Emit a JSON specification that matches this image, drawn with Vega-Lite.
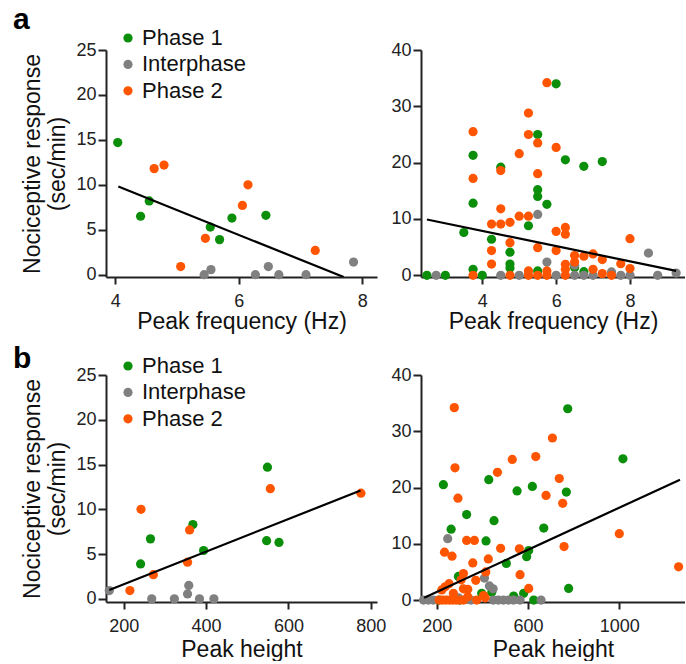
{
  "$schema": "https://vega.github.io/schema/vega-lite/v6.json",
  "padding": {"left": 13, "top": 5, "right": 0, "bottom": 0},
  "bounds": "flush",
  "columns": 2,
  "spacing": {"row": 98, "column": 44},
  "resolve": {"scale": {"color": "independent"}, "legend": {"color": "independent"}},
  "datasets": {
    "aL": [
      {"x": 4.04, "y": 14.7, "phase": "Phase 1"}, {"x": 4.41, "y": 6.5, "phase": "Phase 1"}, {"x": 4.55, "y": 8.2, "phase": "Phase 1"}, {"x": 5.54, "y": 5.3, "phase": "Phase 1"}, {"x": 5.69, "y": 3.9, "phase": "Phase 1"}, {"x": 5.89, "y": 6.3, "phase": "Phase 1"}, {"x": 6.44, "y": 6.6, "phase": "Phase 1"},
      {"x": 5.44, "y": 0, "phase": "Interphase"}, {"x": 5.55, "y": 0.56, "phase": "Interphase"}, {"x": 6.27, "y": 0, "phase": "Interphase"}, {"x": 6.48, "y": 0.9, "phase": "Interphase"}, {"x": 6.65, "y": 0, "phase": "Interphase"}, {"x": 7.09, "y": 0, "phase": "Interphase"}, {"x": 7.86, "y": 1.4, "phase": "Interphase"},
      {"x": 4.63, "y": 11.8, "phase": "Phase 2"}, {"x": 4.79, "y": 12.2, "phase": "Phase 2"}, {"x": 5.06, "y": 0.9, "phase": "Phase 2"}, {"x": 5.46, "y": 4.05, "phase": "Phase 2"}, {"x": 6.06, "y": 7.7, "phase": "Phase 2"}, {"x": 6.15, "y": 10.0, "phase": "Phase 2"}, {"x": 7.24, "y": 2.7, "phase": "Phase 2"}
    ],
    "aLline": [{"x": 4.05, "y": 9.8}, {"x": 7.7, "y": -0.26}],
    "aR": [
      {"x": 2.5, "y": 0, "phase": "Phase 1"}, {"x": 3.0, "y": 0, "phase": "Phase 1"}, {"x": 3.5, "y": 7.6, "phase": "Phase 1"}, {"x": 3.75, "y": 21.3, "phase": "Phase 1"}, {"x": 3.75, "y": 12.8, "phase": "Phase 1"}, {"x": 3.75, "y": 1.06, "phase": "Phase 1"}, {"x": 4.0, "y": 0, "phase": "Phase 1"}, {"x": 4.25, "y": 6.4, "phase": "Phase 1"}, {"x": 4.5, "y": 19.2, "phase": "Phase 1"}, {"x": 4.75, "y": 4.1, "phase": "Phase 1"}, {"x": 4.75, "y": 2.0, "phase": "Phase 1"}, {"x": 4.75, "y": 1.3, "phase": "Phase 1"}, {"x": 5.25, "y": 8.8, "phase": "Phase 1"}, {"x": 5.5, "y": 25.0, "phase": "Phase 1"}, {"x": 5.5, "y": 15.2, "phase": "Phase 1"}, {"x": 5.5, "y": 14.0, "phase": "Phase 1"}, {"x": 5.5, "y": 0.77, "phase": "Phase 1"}, {"x": 5.75, "y": 12.6, "phase": "Phase 1"}, {"x": 6.0, "y": 34.0, "phase": "Phase 1"}, {"x": 6.25, "y": 20.5, "phase": "Phase 1"}, {"x": 6.5, "y": 1.4, "phase": "Phase 1"}, {"x": 6.75, "y": 19.35, "phase": "Phase 1"}, {"x": 6.75, "y": 0.65, "phase": "Phase 1"}, {"x": 7.25, "y": 20.2, "phase": "Phase 1"},
      {"x": 2.75, "y": 0, "phase": "Interphase"}, {"x": 4.5, "y": 0, "phase": "Interphase"}, {"x": 5.0, "y": 0, "phase": "Interphase"}, {"x": 5.5, "y": 10.8, "phase": "Interphase"}, {"x": 5.75, "y": 2.36, "phase": "Interphase"}, {"x": 6.0, "y": 0, "phase": "Interphase"}, {"x": 6.5, "y": 0, "phase": "Interphase"}, {"x": 6.5, "y": 1.8, "phase": "Interphase"}, {"x": 6.75, "y": 0, "phase": "Interphase"}, {"x": 7.0, "y": 0, "phase": "Interphase"}, {"x": 7.5, "y": 0.6, "phase": "Interphase"}, {"x": 7.75, "y": 0, "phase": "Interphase"}, {"x": 8.0, "y": 0, "phase": "Interphase"}, {"x": 8.5, "y": 3.95, "phase": "Interphase"}, {"x": 8.75, "y": 0, "phase": "Interphase"}, {"x": 9.25, "y": 0.4, "phase": "Interphase"},
      {"x": 3.75, "y": 25.5, "phase": "Phase 2"}, {"x": 3.75, "y": 17.2, "phase": "Phase 2"}, {"x": 3.75, "y": 0, "phase": "Phase 2"}, {"x": 4.25, "y": 9.1, "phase": "Phase 2"}, {"x": 4.25, "y": 4.4, "phase": "Phase 2"}, {"x": 4.25, "y": 2.0, "phase": "Phase 2"}, {"x": 4.5, "y": 18.6, "phase": "Phase 2"}, {"x": 4.5, "y": 11.8, "phase": "Phase 2"}, {"x": 4.5, "y": 9.1, "phase": "Phase 2"}, {"x": 4.75, "y": 9.4, "phase": "Phase 2"}, {"x": 4.75, "y": 5.8, "phase": "Phase 2"}, {"x": 4.75, "y": 0, "phase": "Phase 2"}, {"x": 5.0, "y": 21.6, "phase": "Phase 2"}, {"x": 5.0, "y": 10.5, "phase": "Phase 2"}, {"x": 5.25, "y": 28.8, "phase": "Phase 2"}, {"x": 5.25, "y": 25.0, "phase": "Phase 2"}, {"x": 5.25, "y": 10.5, "phase": "Phase 2"}, {"x": 5.25, "y": 0.77, "phase": "Phase 2"}, {"x": 5.25, "y": 0, "phase": "Phase 2"}, {"x": 5.5, "y": 23.5, "phase": "Phase 2"}, {"x": 5.5, "y": 18.05, "phase": "Phase 2"}, {"x": 5.5, "y": 4.9, "phase": "Phase 2"}, {"x": 5.5, "y": 0, "phase": "Phase 2"}, {"x": 5.75, "y": 34.2, "phase": "Phase 2"}, {"x": 5.75, "y": 0.77, "phase": "Phase 2"}, {"x": 5.75, "y": 0, "phase": "Phase 2"}, {"x": 6.0, "y": 22.7, "phase": "Phase 2"}, {"x": 6.0, "y": 7.8, "phase": "Phase 2"}, {"x": 6.0, "y": 4.4, "phase": "Phase 2"}, {"x": 6.25, "y": 8.5, "phase": "Phase 2"}, {"x": 6.25, "y": 7.3, "phase": "Phase 2"}, {"x": 6.25, "y": 1.95, "phase": "Phase 2"}, {"x": 6.25, "y": 1.06, "phase": "Phase 2"}, {"x": 6.25, "y": 0, "phase": "Phase 2"}, {"x": 6.5, "y": 3.5, "phase": "Phase 2"}, {"x": 6.5, "y": 2.36, "phase": "Phase 2"}, {"x": 6.75, "y": 3.4, "phase": "Phase 2"}, {"x": 7.0, "y": 3.8, "phase": "Phase 2"}, {"x": 7.0, "y": 1.06, "phase": "Phase 2"}, {"x": 7.25, "y": 2.8, "phase": "Phase 2"}, {"x": 7.25, "y": 0.3, "phase": "Phase 2"}, {"x": 7.5, "y": 0, "phase": "Phase 2"}, {"x": 7.75, "y": 2.06, "phase": "Phase 2"}, {"x": 8.0, "y": 6.5, "phase": "Phase 2"}, {"x": 8.0, "y": 1.2, "phase": "Phase 2"}
    ],
    "aRline": [{"x": 2.5, "y": 9.9}, {"x": 9.25, "y": 0.8}],
    "bL": [
      {"x": 549, "y": 14.7, "phase": "Phase 1"}, {"x": 547, "y": 6.5, "phase": "Phase 1"}, {"x": 577, "y": 6.3, "phase": "Phase 1"}, {"x": 368, "y": 8.3, "phase": "Phase 1"}, {"x": 394, "y": 5.4, "phase": "Phase 1"}, {"x": 265, "y": 6.7, "phase": "Phase 1"}, {"x": 241, "y": 3.9, "phase": "Phase 1"},
      {"x": 165, "y": 0.93, "phase": "Interphase"}, {"x": 268, "y": 0, "phase": "Interphase"}, {"x": 323, "y": 0, "phase": "Interphase"}, {"x": 358, "y": 1.5, "phase": "Interphase"}, {"x": 355, "y": 0.55, "phase": "Interphase"}, {"x": 384, "y": 0, "phase": "Interphase"}, {"x": 419, "y": 0, "phase": "Interphase"},
      {"x": 242, "y": 10.0, "phase": "Phase 2"}, {"x": 556, "y": 12.3, "phase": "Phase 2"}, {"x": 360, "y": 7.7, "phase": "Phase 2"}, {"x": 355, "y": 4.1, "phase": "Phase 2"}, {"x": 272, "y": 2.7, "phase": "Phase 2"}, {"x": 215, "y": 0.93, "phase": "Phase 2"}, {"x": 776, "y": 11.8, "phase": "Phase 2"}
    ],
    "bLline": [{"x": 165, "y": 1.0}, {"x": 775, "y": 12.1}],
    "bR": [
      {"x": 229, "y": 20.5, "phase": "Phase 1"}, {"x": 263, "y": 12.6, "phase": "Phase 1"}, {"x": 331, "y": 15.2, "phase": "Phase 1"}, {"x": 428, "y": 21.4, "phase": "Phase 1"}, {"x": 451, "y": 14.1, "phase": "Phase 1"}, {"x": 416, "y": 10.5, "phase": "Phase 1"}, {"x": 505, "y": 6.5, "phase": "Phase 1"}, {"x": 552, "y": 19.4, "phase": "Phase 1"}, {"x": 619, "y": 20.2, "phase": "Phase 1"}, {"x": 669, "y": 12.8, "phase": "Phase 1"}, {"x": 774, "y": 34.0, "phase": "Phase 1"}, {"x": 768, "y": 19.2, "phase": "Phase 1"}, {"x": 1016, "y": 25.1, "phase": "Phase 1"}, {"x": 778, "y": 2.06, "phase": "Phase 1"}, {"x": 594, "y": 7.7, "phase": "Phase 1"}, {"x": 603, "y": 8.8, "phase": "Phase 1"}, {"x": 295, "y": 4.2, "phase": "Phase 1"}, {"x": 397, "y": 1.2, "phase": "Phase 1"}, {"x": 441, "y": 1.4, "phase": "Phase 1"}, {"x": 537, "y": 0.7, "phase": "Phase 1"}, {"x": 581, "y": 1.2, "phase": "Phase 1"}, {"x": 625, "y": 0, "phase": "Phase 1"}, {"x": 210, "y": 0, "phase": "Phase 1"}, {"x": 300, "y": 0, "phase": "Phase 1"},
      {"x": 248, "y": 10.9, "phase": "Interphase"}, {"x": 409, "y": 3.9, "phase": "Interphase"}, {"x": 431, "y": 2.5, "phase": "Interphase"}, {"x": 447, "y": 2.0, "phase": "Interphase"}, {"x": 142, "y": 0, "phase": "Interphase"}, {"x": 163, "y": 0, "phase": "Interphase"}, {"x": 185, "y": 0, "phase": "Interphase"}, {"x": 295, "y": 0.4, "phase": "Interphase"}, {"x": 350, "y": 0, "phase": "Interphase"}, {"x": 448, "y": 0, "phase": "Interphase"}, {"x": 470, "y": 0, "phase": "Interphase"}, {"x": 492, "y": 0, "phase": "Interphase"}, {"x": 514, "y": 0, "phase": "Interphase"}, {"x": 536, "y": 0, "phase": "Interphase"}, {"x": 565, "y": 0, "phase": "Interphase"}, {"x": 657, "y": 0, "phase": "Interphase"},
      {"x": 277, "y": 34.2, "phase": "Phase 2"}, {"x": 280, "y": 23.5, "phase": "Phase 2"}, {"x": 293, "y": 18.1, "phase": "Phase 2"}, {"x": 331, "y": 10.6, "phase": "Phase 2"}, {"x": 365, "y": 10.6, "phase": "Phase 2"}, {"x": 234, "y": 8.5, "phase": "Phase 2"}, {"x": 267, "y": 7.8, "phase": "Phase 2"}, {"x": 358, "y": 6.6, "phase": "Phase 2"}, {"x": 426, "y": 7.3, "phase": "Phase 2"}, {"x": 415, "y": 5.0, "phase": "Phase 2"}, {"x": 480, "y": 9.2, "phase": "Phase 2"}, {"x": 466, "y": 22.7, "phase": "Phase 2"}, {"x": 531, "y": 25.0, "phase": "Phase 2"}, {"x": 562, "y": 9.1, "phase": "Phase 2"}, {"x": 565, "y": 4.5, "phase": "Phase 2"}, {"x": 603, "y": 2.06, "phase": "Phase 2"}, {"x": 634, "y": 25.5, "phase": "Phase 2"}, {"x": 707, "y": 28.8, "phase": "Phase 2"}, {"x": 737, "y": 21.6, "phase": "Phase 2"}, {"x": 679, "y": 18.6, "phase": "Phase 2"}, {"x": 752, "y": 17.2, "phase": "Phase 2"}, {"x": 758, "y": 9.5, "phase": "Phase 2"}, {"x": 1000, "y": 11.8, "phase": "Phase 2"}, {"x": 1260, "y": 5.9, "phase": "Phase 2"}, {"x": 371, "y": 3.5, "phase": "Phase 2"}, {"x": 317, "y": 4.7, "phase": "Phase 2"}, {"x": 307, "y": 3.6, "phase": "Phase 2"}, {"x": 254, "y": 2.9, "phase": "Phase 2"}, {"x": 237, "y": 2.35, "phase": "Phase 2"}, {"x": 222, "y": 1.8, "phase": "Phase 2"}, {"x": 273, "y": 1.2, "phase": "Phase 2"}, {"x": 317, "y": 2.0, "phase": "Phase 2"}, {"x": 336, "y": 1.9, "phase": "Phase 2"}, {"x": 336, "y": 0.6, "phase": "Phase 2"}, {"x": 405, "y": 0.8, "phase": "Phase 2"}, {"x": 412, "y": 0.4, "phase": "Phase 2"}, {"x": 210, "y": 0, "phase": "Phase 2"}, {"x": 225, "y": 0, "phase": "Phase 2"}, {"x": 240, "y": 0, "phase": "Phase 2"}, {"x": 255, "y": 0, "phase": "Phase 2"}, {"x": 270, "y": 0, "phase": "Phase 2"}, {"x": 285, "y": 0, "phase": "Phase 2"}, {"x": 300, "y": 0, "phase": "Phase 2"}, {"x": 317, "y": 0, "phase": "Phase 2"}, {"x": 375, "y": 0, "phase": "Phase 2"}
    ],
    "bRline": [{"x": 145, "y": 0.4}, {"x": 1266, "y": 21.4}]
  },
  "concat": [
    {
      "width": 271, "height": 227,
      "title": {"text": "a", "anchor": "start", "frame": "group", "fontSize": 30, "fontWeight": "bold", "color": "#000", "dx": -93, "baseline": "alphabetic", "offset": -32},
      "layer": [
        {
          "data": {"name": "aL"},
          "mark": {"type": "point", "filled": true, "size": 85, "opacity": 1, "strokeWidth": 0},
          "encoding": {
            "x": {"field": "x", "type": "quantitative", "scale": {"domain": [3.85, 8.24], "nice": false, "zero": false}, "axis": {"values": [4, 6, 8], "format": "d", "title": "Peak frequency (Hz)", "labelPadding": 8, "titlePadding": 0.5}},
            "y": {"field": "y", "type": "quantitative", "scale": {"domain": [-0.26, 25], "nice": false, "zero": false}, "axis": {"values": [0, 5, 10, 15, 20, 25], "format": "d", "title": ["Nociceptive response", "(sec/min)"]}},
            "color": {"field": "phase", "type": "nominal", "scale": {"domain": ["Phase 1", "Interphase", "Phase 2"], "range": ["#0b8f0b", "#808080", "#ff5500"]}, "legend": {"orient": "none", "legendX": 11, "legendY": -23, "title": null}}
          }
        },
        {
          "data": {"name": "aLline"},
          "mark": {"type": "line", "color": "#000", "strokeWidth": 2.2, "clip": true},
          "encoding": {"x": {"field": "x", "type": "quantitative"}, "y": {"field": "y", "type": "quantitative"}}
        }
      ]
    },
    {
      "width": 264, "height": 227,
      "layer": [
        {
          "data": {"name": "aR"},
          "mark": {"type": "point", "filled": true, "size": 85, "opacity": 1, "strokeWidth": 0},
          "encoding": {
            "x": {"field": "x", "type": "quantitative", "scale": {"domain": [2.34, 9.49], "nice": false, "zero": false}, "axis": {"values": [4, 6, 8], "format": "d", "title": "Peak frequency (Hz)", "labelPadding": 8, "titlePadding": 0.5}},
            "y": {"field": "y", "type": "quantitative", "scale": {"domain": [-0.3, 40], "nice": false, "zero": false}, "axis": {"values": [0, 10, 20, 30, 40], "format": "d", "title": null}},
            "color": {"field": "phase", "type": "nominal", "scale": {"domain": ["Phase 1", "Interphase", "Phase 2"], "range": ["#0b8f0b", "#808080", "#ff5500"]}, "legend": null}
          }
        },
        {
          "data": {"name": "aRline"},
          "mark": {"type": "line", "color": "#000", "strokeWidth": 2.2, "clip": true},
          "encoding": {"x": {"field": "x", "type": "quantitative"}, "y": {"field": "y", "type": "quantitative"}}
        }
      ]
    },
    {
      "width": 271, "height": 227,
      "title": {"text": "b", "anchor": "start", "frame": "group", "fontSize": 30, "fontWeight": "bold", "color": "#000", "dx": -93, "baseline": "alphabetic", "offset": -43},
      "layer": [
        {
          "data": {"name": "bL"},
          "mark": {"type": "point", "filled": true, "size": 85, "opacity": 1, "strokeWidth": 0},
          "encoding": {
            "x": {"field": "x", "type": "quantitative", "scale": {"domain": [157, 815], "nice": false, "zero": false}, "axis": {"values": [200, 400, 600, 800], "format": "d", "title": "Peak height", "titlePadding": 2.5}},
            "y": {"field": "y", "type": "quantitative", "scale": {"domain": [-0.35, 25], "nice": false, "zero": false}, "axis": {"values": [0, 5, 10, 15, 20, 25], "format": "d", "title": ["Nociceptive response", "(sec/min)"]}},
            "color": {"field": "phase", "type": "nominal", "scale": {"domain": ["Phase 1", "Interphase", "Phase 2"], "range": ["#0b8f0b", "#808080", "#ff5500"]}, "legend": {"orient": "none", "legendX": 11, "legendY": -20, "title": null}}
          }
        },
        {
          "data": {"name": "bLline"},
          "mark": {"type": "line", "color": "#000", "strokeWidth": 2.2, "clip": true},
          "encoding": {"x": {"field": "x", "type": "quantitative"}, "y": {"field": "y", "type": "quantitative"}}
        }
      ]
    },
    {
      "width": 264, "height": 227,
      "layer": [
        {
          "data": {"name": "bR"},
          "mark": {"type": "point", "filled": true, "size": 85, "opacity": 1, "strokeWidth": 0},
          "encoding": {
            "x": {"field": "x", "type": "quantitative", "scale": {"domain": [131, 1288], "nice": false, "zero": false}, "axis": {"values": [200, 600, 1000], "format": "d", "title": "Peak height", "titlePadding": 2.5}},
            "y": {"field": "y", "type": "quantitative", "scale": {"domain": [-0.35, 40], "nice": false, "zero": false}, "axis": {"values": [0, 10, 20, 30, 40], "format": "d", "title": null}},
            "color": {"field": "phase", "type": "nominal", "scale": {"domain": ["Phase 1", "Interphase", "Phase 2"], "range": ["#0b8f0b", "#808080", "#ff5500"]}, "legend": null}
          }
        },
        {
          "data": {"name": "bRline"},
          "mark": {"type": "line", "color": "#000", "strokeWidth": 2.2, "clip": true},
          "encoding": {"x": {"field": "x", "type": "quantitative"}, "y": {"field": "y", "type": "quantitative"}}
        }
      ]
    }
  ],
  "config": {
    "font": "Liberation Sans",
    "view": {"stroke": null},
    "axis": {"grid": false, "domainColor": "#222", "domainWidth": 2, "tickColor": "#222", "tickWidth": 2, "labelFontSize": 18, "labelColor": "#222", "labelFont": "Liberation Sans", "titleFont": "Liberation Sans", "titleFontSize": 23, "titleFontWeight": "normal", "titleColor": "#111", "labelFlush": false, "labelOverlap": false},
    "axisX": {"tickSize": 7, "labelPadding": 8.5},
    "axisY": {"tickSize": 8, "labelPadding": 2, "titlePadding": 6, "titleLineHeight": 25},
    "legend": {"labelFontSize": 22, "labelColor": "#111", "labelFont": "Liberation Sans", "symbolSize": 85, "symbolType": "circle", "rowPadding": 4.4, "labelOffset": 3, "symbolStrokeWidth": 0, "padding": 0},
    "title": {"font": "Liberation Sans"}
  }
}
